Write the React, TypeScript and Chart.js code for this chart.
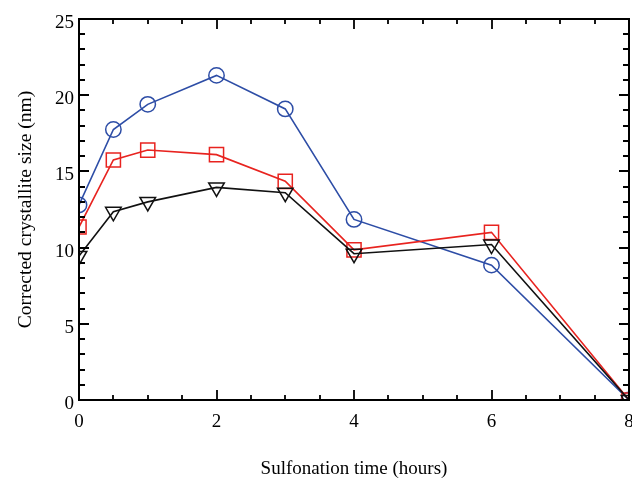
import React, { useEffect, useRef } from "react";
import { Chart, registerables } from "chart.js";

Chart.register(...registerables);

const times = [0, 0.5, 1, 2, 3, 4, 6, 8];
const blueValues = [12.8, 17.75, 19.4, 21.3, 19.1, 11.85, 8.85, 0];
const redValues = [11.35, 15.75, 16.4, 16.1, 14.35, 9.85, 11.0, 0];
const blackValues = [9.45, 12.35, 13.0, 13.95, 13.6, 9.6, 10.2, 0];

const xTitle = "Sulfonation time (hours)";
const yTitle = "Corrected crystallite size (nm)";

const FONT = "'Liberation Serif', 'Times New Roman', serif";

const framePlugin = {
  id: "frameTicks",
  afterDraw(chart: any) {
    const { ctx, chartArea, scales } = chart;
    const { left, right, top, bottom } = chartArea;
    const xs = scales.x;
    const ys = scales.y;
    ctx.save();
    ctx.strokeStyle = "#000";
    ctx.lineWidth = 1.8;
    ctx.beginPath();
    for (let v = xs.min; v <= xs.max + 1e-9; v += 0.5) {
      const px = Math.round(xs.getPixelForValue(v));
      const major = Math.abs(v / 2 - Math.round(v / 2)) < 1e-6;
      const len = major ? 10 : 5;
      ctx.moveTo(px, bottom);
      ctx.lineTo(px, bottom - len);
      ctx.moveTo(px, top);
      ctx.lineTo(px, top + len);
    }
    for (let v = ys.min; v <= ys.max + 1e-9; v += 1) {
      const py = Math.round(ys.getPixelForValue(v));
      const major = v % 5 === 0;
      const len = major ? 10 : 6;
      ctx.moveTo(left, py);
      ctx.lineTo(left + len, py);
      ctx.moveTo(right, py);
      ctx.lineTo(right - len, py);
    }
    ctx.stroke();
    ctx.lineWidth = 2;
    ctx.strokeRect(left, top, right - left, bottom - top);

    ctx.fillStyle = "#000";
    ctx.font = `19px ${FONT}`;
    ctx.textAlign = "center";
    ctx.textBaseline = "alphabetic";
    xs.ticks.forEach((t: any) => {
      const px = xs.getPixelForValue(t.value);
      ctx.fillText(String(t.label), px, bottom + 27);
    });
    ctx.restore();
  },
};

export default function App() {
  const canvasRef = useRef<HTMLCanvasElement>(null);

  useEffect(() => {
    document.body.style.margin = "0";
    const canvas = canvasRef.current!;
    const mk = (vals: number[]) => times.map((t, i) => ({ x: t, y: vals[i] }));
    const chart = new Chart(canvas, {
      type: "line",
      data: {
        datasets: [
          {
            label: "black",
            data: mk(blackValues),
            borderColor: "#111111",
            borderWidth: 1.6,
            pointStyle: "triangle",
            pointRotation: 180,
            pointRadius: 9,
            pointBorderWidth: 1.5,
            pointBorderColor: "#111111",
            pointBackgroundColor: "rgba(0,0,0,0)",
            clip: 0,
          },
          {
            label: "red",
            data: mk(redValues),
            borderColor: "#e8231f",
            borderWidth: 1.6,
            pointStyle: "rect",
            pointRadius: 10,
            pointBorderWidth: 1.5,
            pointBorderColor: "#e8231f",
            pointBackgroundColor: "rgba(0,0,0,0)",
            clip: 0,
          },
          {
            label: "blue",
            data: mk(blueValues),
            borderColor: "#2d4da6",
            borderWidth: 1.6,
            pointStyle: "circle",
            pointRadius: 7.7,
            pointBorderWidth: 1.5,
            pointBorderColor: "#2d4da6",
            pointBackgroundColor: "rgba(0,0,0,0)",
            clip: 0,
          },
        ],
      },
      options: {
        responsive: false,
        animation: false,
        devicePixelRatio: 1,
        layout: { autoPadding: false, padding: { left: 0, right: 3, top: 19, bottom: 0 } },
        plugins: {
          legend: { display: false },
          tooltip: { enabled: false },
        },
        scales: {
          x: {
            type: "linear",
            min: 0,
            max: 8,
            grid: { display: false, drawTicks: false },
            border: { display: false },
            ticks: {
              display: false,
              stepSize: 2,
              autoSkip: false,
              maxRotation: 0,
            },
            title: {
              display: true,
              text: xTitle,
              color: "#000",
              padding: { top: 0, bottom: 0 },
              font: { family: FONT, size: 19 },
            },
            afterFit(scale: any) {
              scale.height = 80;
              scale.paddingLeft = 0;
              scale.paddingRight = 0;
            },
          },
          y: {
            type: "linear",
            min: 0,
            max: 25,
            grid: { display: false, drawTicks: false },
            border: { display: false },
            ticks: {
              stepSize: 5,
              padding: 5,
              labelOffset: 4,
              color: "#000",
              font: { family: FONT, size: 19 },
            },
            title: {
              display: true,
              text: yTitle,
              color: "#000",
              padding: { top: 14.5, bottom: 0 },
              font: { family: FONT, size: 19.6 },
            },
            afterFit(scale: any) {
              scale.width = 79;
              scale.paddingTop = 0;
              scale.paddingBottom = 0;
            },
          },
        },
      },
      plugins: [framePlugin],
    } as any);
    return () => chart.destroy();
  }, []);

  return (
    <div style={{ position: "fixed", left: 0, top: 0, width: 632, height: 480, background: "#fff" }}>
      <canvas ref={canvasRef} width={632} height={480} style={{ width: 632, height: 480, display: "block" }} />
    </div>
  );
}
